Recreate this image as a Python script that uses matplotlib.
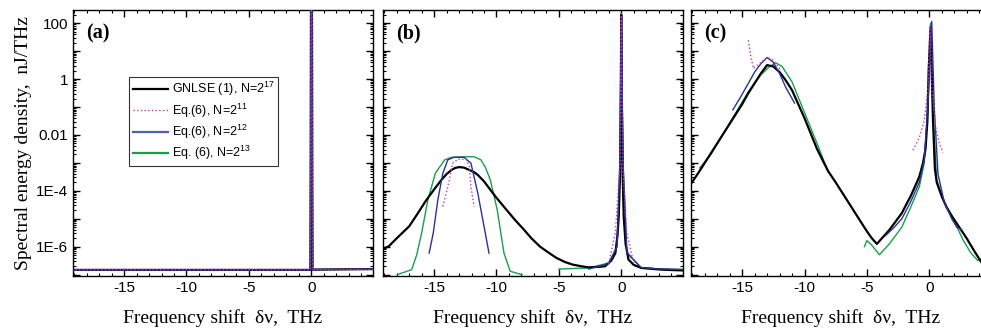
import numpy as np
import matplotlib
matplotlib.use("Agg")
import matplotlib.pyplot as plt
from matplotlib.ticker import LogLocator, MultipleLocator, FuncFormatter
from matplotlib.lines import Line2D

plt.rcParams['font.family'] = ['Liberation Sans', 'DejaVu Sans']
plt.rcParams['mathtext.default'] = 'regular'
plt.rcParams['axes.unicode_minus'] = False

# values are log10 of spectral energy density (nJ/THz)
labels = ['GNLSE (1), N=2$^{17}$', 'Eq.(6), N=2$^{11}$', 'Eq.(6), N=2$^{12}$', 'Eq. (6), N=2$^{13}$']

# panel (a)
a_x = [-19.5, -0.06, -0.02, 0.06, 0.1, 5.5]
a_lg = [-6.83, -6.83, 2.7, 2.7, -6.82, -6.8]

# panel (b)
b_black_x = [-19.5, -18.65, -18.0, -17.0, -16.3, -15.7, -15.0, -14.4, -14.0, -13.6, -13.3, -13.0, -12.6,
             -12.2, -11.8, -11.5, -11.0, -10.5, -10.0, -9.2, -8.5, -7.8, -7.2, -6.5, -5.8, -5.2, -4.5,
             -3.9, -3.2, -2.6, -1.8, -1.3, -0.8, -0.47, -0.3, -0.2, -0.1, -0.04, 0.0, 0.05, 0.12, 0.2,
             0.35, 0.58, 1.0, 1.6, 3.2, 5.5]
b_black_lg = [-6.15, -5.99, -5.7, -5.27, -4.8, -4.38, -3.95, -3.6, -3.4, -3.25, -3.18, -3.15, -3.17,
              -3.25, -3.33, -3.43, -3.66, -3.96, -4.25, -4.68, -5.05, -5.39, -5.7, -6.0, -6.22, -6.4, -6.55,
              -6.64, -6.7, -6.74, -6.72, -6.7, -6.5, -6.23, -5.6, -4.92, -3.5, -1.0, 2.3, -1.0, -3.5, -4.92,
              -5.9, -6.46, -6.65, -6.76, -6.82, -6.86]
b_green1_x = [-17.96, -16.8, -16.4, -16.0, -15.5, -14.9, -14.15, -13.6, -12.5, -11.8, -11.25, -10.9, -10.5,
              -9.94, -9.4, -8.9, -7.97]
b_green1_lg = [-7.0, -6.82, -6.3, -5.51, -4.32, -3.37, -2.89, -2.8, -2.78, -2.78, -2.89, -3.15, -3.6,
               -4.68, -6.23, -6.88, -7.0]
b_green2_x = [-5.0, -2.6, -1.0, -0.34, -0.1, 0.0, 0.15, 0.45, 1.6, 3.2, 5.5]
b_green2_lg = [-6.8, -6.76, -6.58, -6.0, -3.13, 2.1, -3.13, -6.23, -6.76, -6.8, -6.82]
b_blue1_x = [-15.4, -15.07, -14.7, -14.3, -13.9, -13.4, -12.6, -12.05, -11.5, -11.0, -10.6]
b_blue1_lg = [-6.23, -5.51, -4.32, -3.37, -2.89, -2.8, -2.8, -3.01, -4.08, -5.27, -6.23]
b_blue2_x = [-2.6, -1.0, -0.34, -0.1, 0.0, 0.15, 0.45, 1.6, 3.2, 5.5]
b_blue2_lg = [-6.8, -6.6, -6.0, -3.0, 2.2, -3.0, -6.2, -6.75, -6.8, -6.82]
b_mag1_x = [-14.3, -13.9, -13.5, -13.1, -12.44, -12.18, -12.05, -11.8]
b_mag1_lg = [-4.56, -3.85, -3.01, -2.87, -2.87, -3.13, -3.85, -4.56]
b_mag2_x = [-1.0, -0.47, -0.1, 0.0, 0.1, 0.45, 1.0]
b_mag2_lg = [-6.6, -5.5, -3.0, 2.35, -3.0, -5.5, -6.6]

# panel (c)
c_black_x = [-19.5, -19.0, -18.5, -18.0, -17.5, -17.0, -16.5, -16.0, -15.5, -15.0, -14.5, -14.0, -13.5,
             -13.0, -12.5, -12.0, -11.5, -11.0, -10.5, -10.0, -9.5, -9.0, -8.5, -8.1, -7.5, -7.0, -6.5,
             -6.0, -5.5, -5.0, -4.6, -4.2, -3.7, -3.2, -2.7, -2.2, -1.8, -1.5, -1.1, -0.8, -0.5, -0.3,
             -0.15, -0.05, 0.1, 0.2, 0.3, 0.45, 0.6, 1.0, 1.4, 1.85, 2.4, 3.0, 3.6, 4.3, 5.5]
c_black_lg = [-3.95, -3.68, -3.35, -3.0, -2.65, -2.3, -1.95, -1.6, -1.25, -0.9, -0.5, -0.15, 0.2,
              0.5, 0.45, 0.25, -0.05, -0.4, -0.9, -1.4, -1.95, -2.5, -2.95, -3.3, -3.7, -4.05, -4.4,
              -4.75, -5.1, -5.45, -5.7, -5.9, -5.65, -5.4, -5.1, -4.8, -4.45, -4.2, -3.8, -3.5, -3.0, -2.5,
              -1.5, 0.3, 1.82, 0.2, -1.5, -3.2, -3.7, -4.2, -4.6, -4.93, -5.3, -5.7, -6.15, -6.64, -7.4]
c_green1_x = [-18.4, -17.5, -16.5, -15.5, -14.5, -13.5, -12.8, -12.3, -11.8, -11.0, -10.0, -9.0, -8.1]
c_green1_lg = [-3.18, -2.7, -1.95, -1.2, -0.45, 0.15, 0.45, 0.58, 0.45, -0.1, -1.2, -2.3, -3.32]
c_green2_x = [-5.2, -5.0, -4.6, -4.0, -3.2, -2.2, -1.5, -0.8, -0.4, -0.1, 0.1, 0.3, 0.6, 1.1,
              1.9, 2.7, 3.3, 3.9, 4.3]
c_green2_lg = [-6.0, -5.78, -5.95, -6.29, -5.9, -5.3, -4.6, -3.86, -3.0, -1.0, 2.0, -1.2, -3.6, -4.3,
               -5.0, -5.75, -6.2, -6.5, -6.4]
c_blue1_x = [-15.75, -15.2, -14.5, -14.0, -13.5, -13.0, -12.5, -12.0, -11.5, -10.8]
c_blue1_lg = [-1.1, -0.7, -0.15, 0.25, 0.55, 0.77, 0.6, 0.2, -0.3, -0.86]
c_blue2_x = [-3.5, -2.8, -2.2, -1.5, -0.8, -0.4, -0.1, 0.2, 0.4, 0.7, 1.2, 1.8, 2.2, 2.6]
c_blue2_lg = [-5.6, -5.3, -5.0, -4.4, -3.7, -2.9, -0.8, 2.06, -1.0, -3.4, -4.4, -5.0, -5.3, -5.4]
c_mag1_x = [-14.5, -14.3, -14.1, -13.6, -13.0, -12.6, -12.2, -11.9]
c_mag1_lg = [1.39, 0.8, 0.38, 0.55, 0.78, 0.7, 0.5, 0.32]
c_mag2_x = [-1.3, -0.8, -0.4, -0.1, 0.05, 0.2, 0.5, 0.8, 1.1]
c_mag2_lg = [-2.54, -2.1, -1.5, -0.3, 1.9, -0.3, -1.7, -2.3, -2.63]

black = 'black'
mag = '#cc33aa'
blue = '#28339a'
green = '#17a04a'

fig = plt.figure(figsize=(9.81, 3.35), dpi=100)
w = 0.3058
axa = fig.add_axes([0.0744, 0.176, w, 0.794])
axb = fig.add_axes([0.3904, 0.176, w, 0.794])
axc = fig.add_axes([0.7044, 0.176, w, 0.794])


def p(ax, x, lg, color, lw=1.0, ls='-', z=2):
    ax.plot(x, 10 ** np.array(lg), color=color, lw=lw, ls=ls, zorder=z)


# (a) all curves coincide
p(axa, a_x, a_lg, green, z=2)
p(axa, a_x, a_lg, black, lw=1.6, z=3)
p(axa, a_x, a_lg, blue, z=4)
p(axa, a_x, a_lg, mag, ls=':', z=5)

# (b)
p(axb, b_black_x, b_black_lg, black, lw=1.6, z=3)
p(axb, b_green1_x, b_green1_lg, green, z=2)
p(axb, b_green2_x, b_green2_lg, green, z=2)
p(axb, b_blue1_x, b_blue1_lg, blue, z=4)
p(axb, b_blue2_x, b_blue2_lg, blue, z=4)
p(axb, b_mag1_x, b_mag1_lg, mag, ls=':', z=5)
p(axb, b_mag2_x, b_mag2_lg, mag, ls=':', z=5)

# (c)
p(axc, c_black_x, c_black_lg, black, lw=1.6, z=3)
p(axc, c_green1_x, c_green1_lg, green, z=2)
p(axc, c_green2_x, c_green2_lg, green, z=2)
p(axc, c_blue1_x, c_blue1_lg, blue, z=4)
p(axc, c_blue2_x, c_blue2_lg, blue, z=4)
p(axc, c_mag1_x, c_mag1_lg, mag, ls=':', z=5)
p(axc, c_mag2_x, c_mag2_lg, mag, ls=':', z=5)


def ylab(v, pos):
    e = int(round(np.log10(v)))
    if e % 2:
        return ''
    return {2: '100', 0: '1', -2: '0.01'}.get(e, '1E%d' % e)


for ax, tag in zip([axa, axb, axc], ['(a)', '(b)', '(c)']):
    ax.set_yscale('log')
    ax.set_xlim(-19.1, 4.95)
    ax.set_ylim(10 ** -7.05, 10 ** 2.47)
    ax.xaxis.set_major_locator(MultipleLocator(5))
    ax.xaxis.set_minor_locator(MultipleLocator(1))
    ax.yaxis.set_major_locator(LogLocator(base=10, numticks=20))
    ax.yaxis.set_minor_locator(LogLocator(base=10, subs=np.arange(2, 10), numticks=20))
    ax.tick_params(which='both', direction='in', top=True, right=True, labelsize=11)
    ax.tick_params(which='major', length=5, width=1)
    ax.tick_params(which='minor', length=2.5, width=0.8)
    for s in ax.spines.values():
        s.set_linewidth(1.0)
    ax.set_xlabel('Frequency shift  \u03b4\u03bd,  THz', family='Liberation Serif', fontsize=14, labelpad=10)
    ax.text(0.045, 0.95, tag, transform=ax.transAxes, family='Liberation Serif', fontsize=14.5,
            fontweight='bold', va='top', ha='left')
    if ax is axa:
        ax.yaxis.set_major_formatter(FuncFormatter(ylab))
    else:
        ax.set_yticklabels([])

axa.set_ylabel('Spectral energy density,  nJ/THz', family='Liberation Serif', fontsize=14, labelpad=3)

handles = [Line2D([], [], color=black, lw=1.6),
           Line2D([], [], color=mag, lw=1.0, ls=':'),
           Line2D([], [], color='#5060b0', lw=1.6),
           Line2D([], [], color=green, lw=1.6)]
leg = axa.legend(handles, labels, loc='upper left', bbox_to_anchor=(0.187, 0.75), fontsize=9,
                 frameon=True, fancybox=False, edgecolor='black', handlelength=2.8,
                 handletextpad=0.3, labelspacing=0.25, borderpad=0.3, borderaxespad=0)
leg.get_frame().set_linewidth(0.8)

fig.savefig('out.png', dpi=100)
